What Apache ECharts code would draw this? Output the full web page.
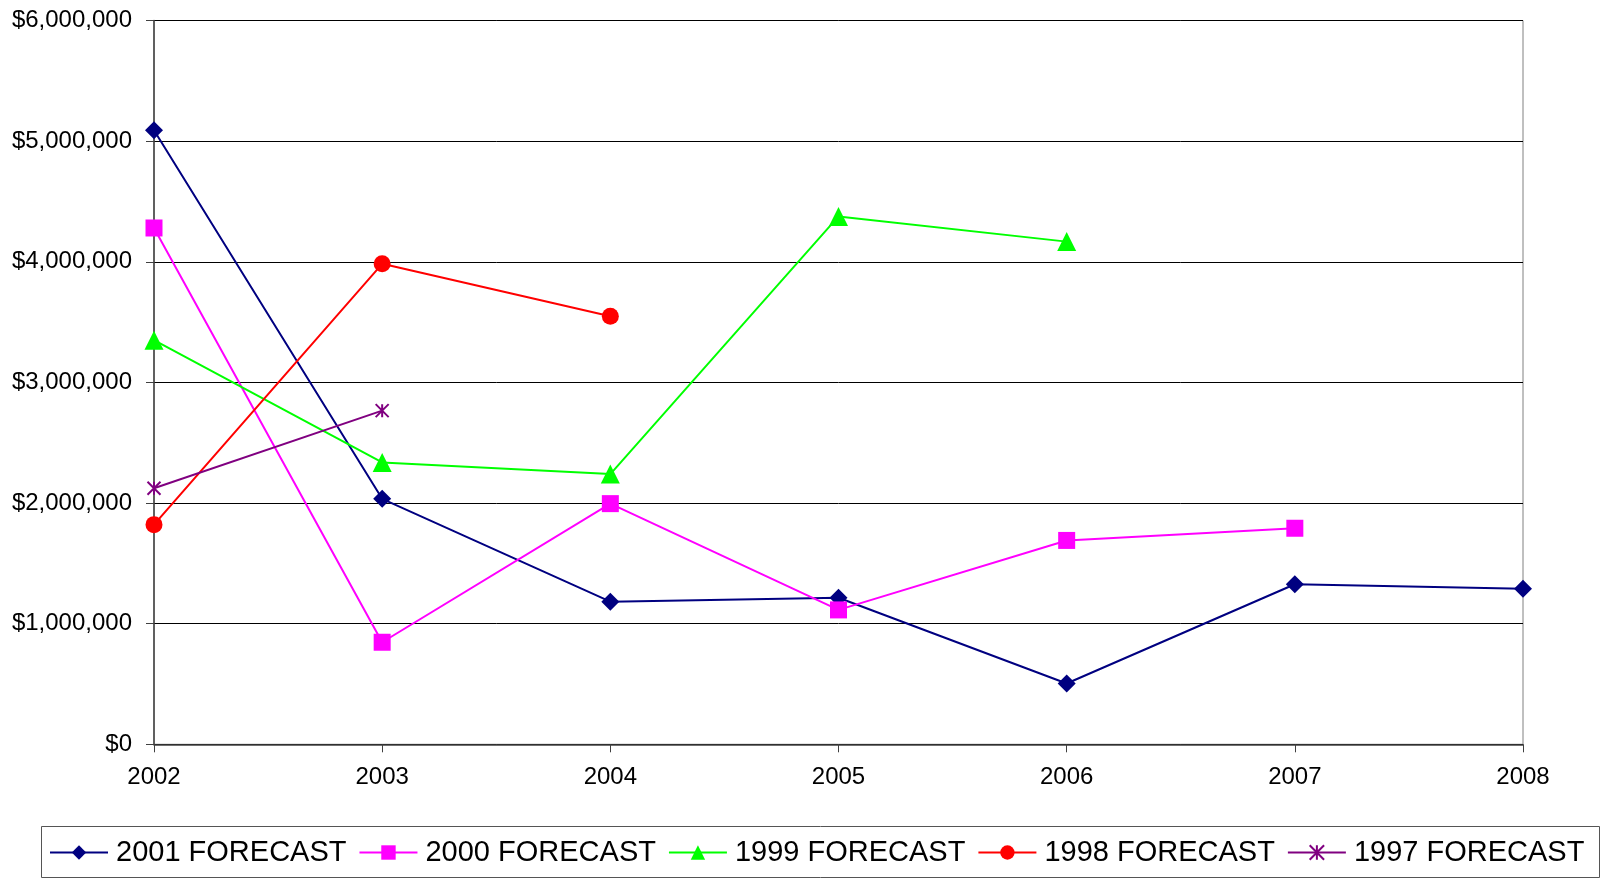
<!DOCTYPE html>
<html>
<head>
<meta charset="utf-8">
<script src="https://cdn.jsdelivr.net/npm/echarts@6/dist/echarts.min.js"></script>
<style>
  html, body { margin: 0; padding: 0; background: #ffffff; }
  #chart { width: 1602px; height: 878px; }
</style>
</head>
<body>
<div id="chart"></div>
<script>
// Forecast years along the x axis
const years = ['2002', '2003', '2004', '2005', '2006', '2007', '2008'];

// Forecast values (dollars) per forecast vintage
const forecast2001 = [5090000, 2035000, 1182000, 1215000, 504000, 1327000, 1290000];
const forecast2000 = [4280000, 846000, 1995000, 1114000, 1690000, 1791000, null];
const forecast1999 = [3350000, 2337000, 2240000, 4376000, 4167000, null, null];
const forecast1998 = [1821000, 3983000, 3549000, null, null, null, null];
const forecast1997 = [2123000, 2766000, null, null, null, null, null];

// Y axis range
const yMin = 0;
const yMax = 6000000;
const yStep = 1000000;

const FONT = '"Liberation Sans", Arial, sans-serif';

// Asterisk marker: vertical stroke plus an X
const asterisk = 'path://M0,-10L0,10M-10,-10L10,10M-10,10L10,-10';

function money(v) {
  return '$' + Math.round(v).toString().replace(/\B(?=(\d{3})+(?!\d))/g, ',');
}

function lineSeries(name, data, color, symbol, size, extra) {
  return Object.assign({
    name: name,
    type: 'line',
    data: data,
    symbol: symbol,
    symbolSize: size,
    showAllSymbol: true,
    connectNulls: false,
    lineStyle: { color: color, width: 2 },
    itemStyle: { color: color, borderWidth: 0 },
    emphasis: { disabled: true },
    z: 3
  }, extra || {});
}

const chart = echarts.init(document.getElementById('chart'), null, { renderer: 'canvas' });

chart.setOption({
  backgroundColor: '#ffffff',
  animation: false,
  textStyle: { fontFamily: FONT },
  grid: {
    left: 154,
    right: 79,
    top: 20.5,
    bottom: 133.7,
    show: true,
    borderColor: '#808080',
    borderWidth: 1,
    backgroundColor: 'transparent'
  },
  xAxis: {
    type: 'category',
    data: years,
    boundaryGap: false,
    axisLine: { show: true, lineStyle: { color: '#404040', width: 1.5 } },
    axisTick: { show: true, inside: false, length: 8, alignWithLabel: true, lineStyle: { color: '#404040' } },
    axisLabel: { color: '#000', fontSize: 24, fontFamily: FONT, margin: 21 },
    splitLine: { show: false }
  },
  yAxis: {
    type: 'value',
    min: yMin,
    max: yMax,
    interval: yStep,
    axisLine: { show: true, lineStyle: { color: '#404040', width: 1.5 } },
    axisTick: { show: true, inside: false, length: 8, lineStyle: { color: '#404040' } },
    axisLabel: { color: '#000', fontSize: 24, fontFamily: FONT, margin: 22, formatter: money },
    splitLine: { show: true, lineStyle: { color: '#000', width: 1 } }
  },
  legend: {
    left: 49,
    top: 838,
    orient: 'horizontal',
    itemWidth: 58,
    itemHeight: 18,
    itemGap: 12,
    padding: 0,
    textStyle: { color: '#000', fontSize: 29, fontFamily: FONT, padding: [0, 0, 0, 3] },
    data: ['2001 FORECAST', '2000 FORECAST', '1999 FORECAST', '1998 FORECAST', '1997 FORECAST']
  },
  graphic: [{
    type: 'rect',
    silent: true,
    shape: { x: 41.5, y: 826.5, width: 1558, height: 51 },
    style: { fill: 'none', stroke: '#555555', lineWidth: 1 }
  }],
  series: [
    lineSeries('2001 FORECAST', forecast2001, '#000080', 'diamond', 18),
    lineSeries('2000 FORECAST', forecast2000, '#FF00FF', 'rect', 17),
    lineSeries('1999 FORECAST', forecast1999, '#00FF00', 'triangle', 19),
    lineSeries('1998 FORECAST', forecast1998, '#FF0000', 'circle', 17),
    lineSeries('1997 FORECAST', forecast1997, '#800080', asterisk, 13, {
      itemStyle: { color: 'none', borderColor: '#800080', borderWidth: 2 }
    })
  ]
});
</script>
</body>
</html>
